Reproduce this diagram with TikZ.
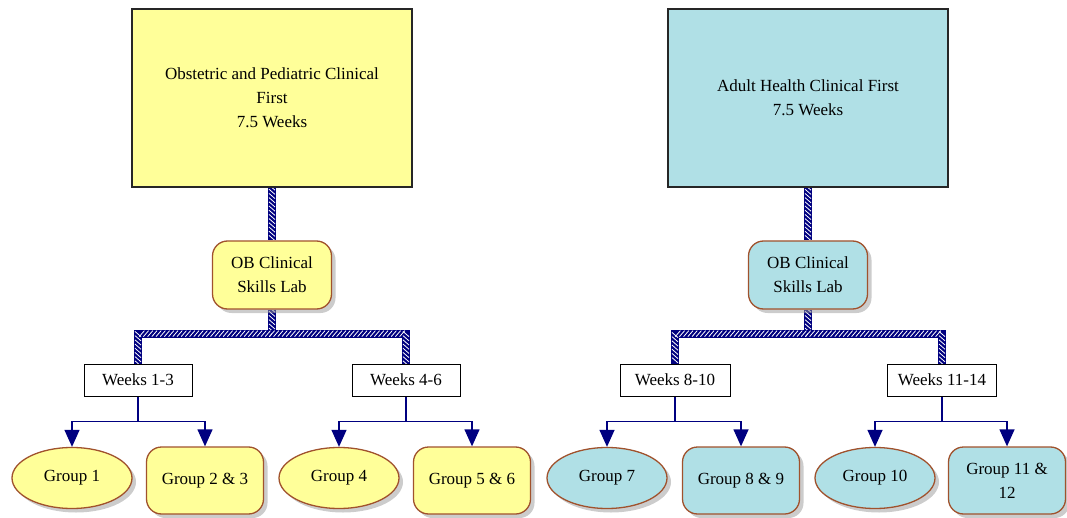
\documentclass[tikz,border=0pt]{standalone}
\usepackage{fontspec}
\setmainfont{Liberation Serif}
\usetikzlibrary{arrows.meta, shapes.geometric, shadows, decorations.markings}
\definecolor{obYellow}{HTML}{FFFF99}
\definecolor{adCyan}{HTML}{B0E0E6}
\definecolor{linkNavy}{HTML}{000080}
\definecolor{edgeBrown}{HTML}{A0522D}
\pgfdeclarelayer{background}
\pgfsetlayers{background,main}

\begin{document}
\begin{tikzpicture}[x=1pt, y=-1pt, font=\fontsize{17}{24}\selectfont,
    topbox/.style={draw=black!85, line width=1.2pt, minimum width=280pt,
      minimum height=178pt, inner sep=0pt, align=center},
    labbox/.style={draw=edgeBrown, line width=1.3pt, rounded corners=15pt,
      minimum width=119pt, minimum height=68pt, inner sep=0pt, align=center,
      drop shadow={shadow xshift=4pt, shadow yshift=-4pt, fill=black!40}},
    weekbox/.style={draw=black, line width=0.9pt, fill=white, minimum height=32pt,
      inner sep=0pt},
    grpoval/.style={ellipse, draw=edgeBrown, line width=1.3pt, minimum width=120pt,
      minimum height=61pt, inner sep=0pt,
      drop shadow={shadow xshift=4pt, shadow yshift=-4pt, fill=black!40}},
    grpbox/.style={draw=edgeBrown, line width=1.3pt, rounded corners=15pt,
      minimum width=117pt, minimum height=67pt, inner sep=0pt, align=center,
      drop shadow={shadow xshift=4pt, shadow yshift=-4pt, fill=black!40}},
    hatchlink/.style={draw=linkNavy, line width=8pt,
      postaction={decorate, decoration={markings,
        mark=between positions 0 and 1 step 4.2pt with
          {\draw[white, line width=0.8pt] (-2.6pt,-3pt) -- (2.6pt,3pt);}}}},
    weeklink/.style={draw=linkNavy, line width=1.3pt},
    grparrow/.style={weeklink, -{Triangle[length=17pt, width=15pt]}}]
  \useasboundingbox (0,0) rectangle (1067,518);

  % Kopfboxen
  \node[topbox, fill=obYellow] (obtop) at (272,98)
    {Obstetric and Pediatric Clinical\\First\\7.5 Weeks};
  \node[topbox, fill=adCyan] (adtop) at (808,98)
    {Adult Health Clinical First\\7.5 Weeks};

  % Skills Lab
  \node[labbox, fill=obYellow] (oblab) at (272,275) {OB Clinical\\Skills Lab};
  \node[labbox, fill=adCyan] (adlab) at (808,275) {OB Clinical\\Skills Lab};

  % Wochen
  \node[weekbox, minimum width=108pt] (w13) at (138,380) {Weeks 1-3};
  \node[weekbox, minimum width=108pt] (w46) at (406,380) {Weeks 4-6};
  \node[weekbox, minimum width=110pt] (w810) at (675,380) {Weeks 8-10};
  \node[weekbox, minimum width=109pt] (w1114) at (942,380) {Weeks 11-14};

  % Gruppen
  \node[grpoval, fill=obYellow] (g1) at (72,478) {Group 1};
  \node[grpbox, fill=obYellow] (g23) at (205,480.5) {Group 2 \& 3};
  \node[grpoval, fill=obYellow] (g4) at (339,478) {Group 4};
  \node[grpbox, fill=obYellow] (g56) at (472,480.5) {Group 5 \& 6};
  \node[grpoval, fill=adCyan] (g7) at (607,478) {Group 7};
  \node[grpbox, fill=adCyan] (g89) at (741,480.5) {Group 8 \& 9};
  \node[grpoval, fill=adCyan] (g10) at (875,478) {Group 10};
  \node[grpbox, fill=adCyan] (g1112) at (1007,480.5) {Group 11 \&\\12};

  \begin{pgfonlayer}{background}
    % schraffierte Verbinder
    \foreach \top/\lab/\wa/\wb in {obtop/oblab/w13/w46, adtop/adlab/w810/w1114} {
      \draw[hatchlink] (\top.south) -- (\lab.north);
      \path (\lab.south) ++(0,24) coordinate (h\lab);
      \draw[hatchlink] (\lab.south) -- (h\lab);
      \draw[hatchlink] (h\lab) -| (\wa.north);
      \draw[hatchlink] (h\lab) -| (\wb.north);
    }
    % Pfeile zu den Gruppen
    \foreach \w/\ga/\gb in {w13/g1/g23, w46/g4/g56, w810/g7/g89, w1114/g10/g1112} {
      \draw[weeklink] (\w.south) -- ++(0,25) coordinate (b\w);
      \draw[grparrow] (b\w) -| (\ga.north);
      \draw[grparrow] (b\w) -| (\gb.north);
    }
  \end{pgfonlayer}
\end{tikzpicture}
\end{document}
